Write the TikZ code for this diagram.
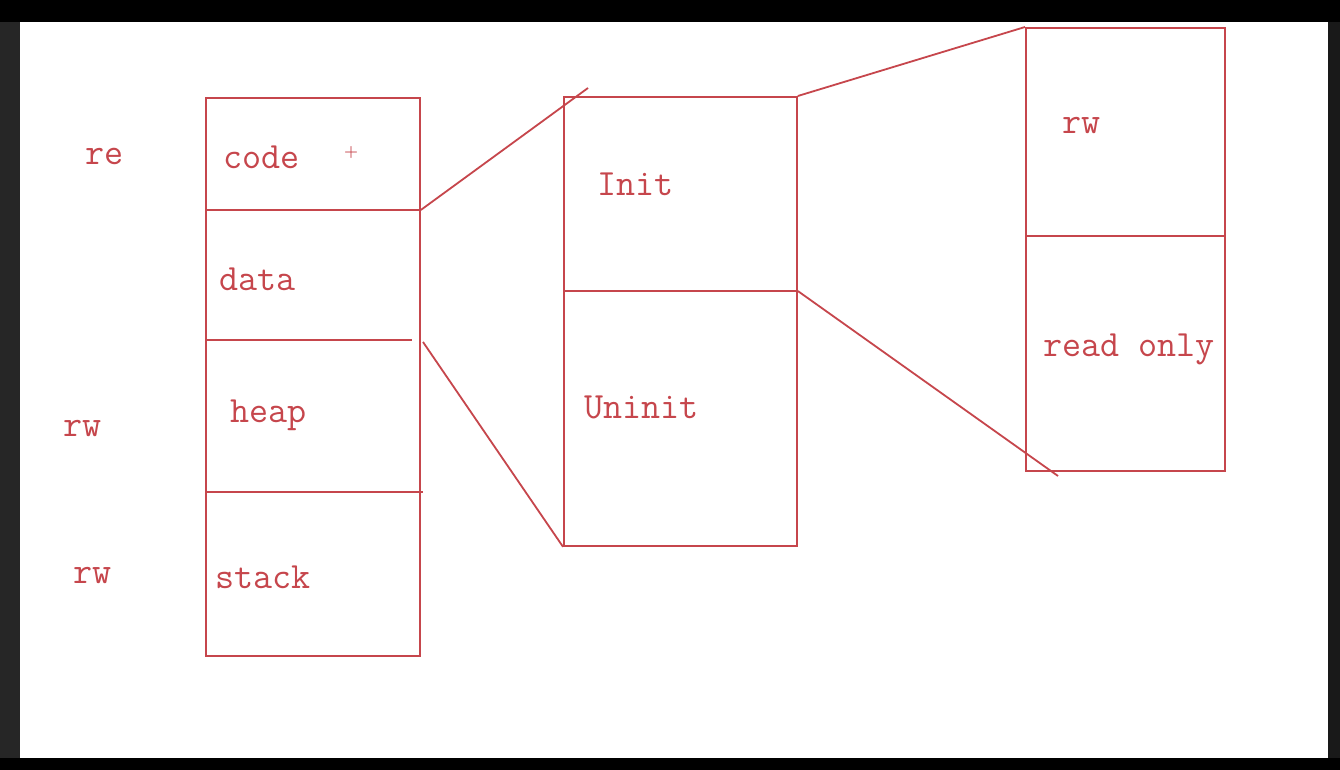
\documentclass[tikz,border=0pt]{standalone}
\usepackage{fontspec}
\usetikzlibrary{positioning}
\definecolor{ink}{RGB}{198,70,76}
\begin{document}
\begin{tikzpicture}[x=1pt,y=-1pt,
  pen/.style={draw=ink,line width=1.8pt},
  box/.style={pen,anchor=north west,inner sep=0pt},
  lbl/.style={text=ink,anchor=base west,inner sep=0pt,font=\ttfamily\fontsize{37}{40}\selectfont}]
\useasboundingbox (0,0) rectangle (1340,770);
\fill[black] (0,0) rectangle (1340,770);
\fill[black!85] (0,22) rectangle (20,758);
\fill[black!90] (1328,22) rectangle (1340,758);
\fill[white] (20,22) rectangle (1328,758);
% process image
\node[box,minimum width=214pt,minimum height=558pt] (mem) at (205,97) {};
\draw[pen] (205,210) -- (419,210);
\draw[pen] (205,340) -- (412,340);
\draw[pen] (205,492) -- (423,492);
% data segment
\node[box,minimum width=233pt,minimum height=449pt] (sect) at (563,96) {};
\draw[pen] (563,291) -- (796,291);
% init part
\node[box,minimum width=199pt,minimum height=443pt] (ro) at (1025,27) {};
\draw[pen] (1027,236) -- (1226,236);
% zoom lines
\coordinate (tipA) at (588,88);
\coordinate (tipB) at (1058,476);
\draw[pen] (mem.east |- 0,210) -- (tipA);
\draw[pen] (423,342) -- (sect.south west);
\draw[pen] (sect.north east) -- (ro.north west);
\draw[pen] (sect.east |- 0,291) -- (tipB);
% labels
\node[lbl] (lre) at (85,165) {re};
\node[lbl] (lrw1) at (63,436) {rw};
\node[lbl] (lrw2) at (73,583) {rw};
\node[lbl] (lcode) at (223,168) {code};
\node[text=ink,font=\bfseries\fontsize{16}{16}\selectfont,inner sep=0pt] (mark) at (351,153) {+};
\node[lbl] (ldata) at (219,290) {data};
\node[lbl] (lheap) at (230,422) {heap};
\node[lbl] (lstack) at (215,588) {stack};
\node[lbl] (linit) at (597,196) {Init};
\node[lbl] (luninit) at (584,418) {Uninit};
\node[lbl] (lrw3) at (1062,134) {rw};
\node[lbl] (lro) at (1043,356) {read only};
\end{tikzpicture}
\end{document}
